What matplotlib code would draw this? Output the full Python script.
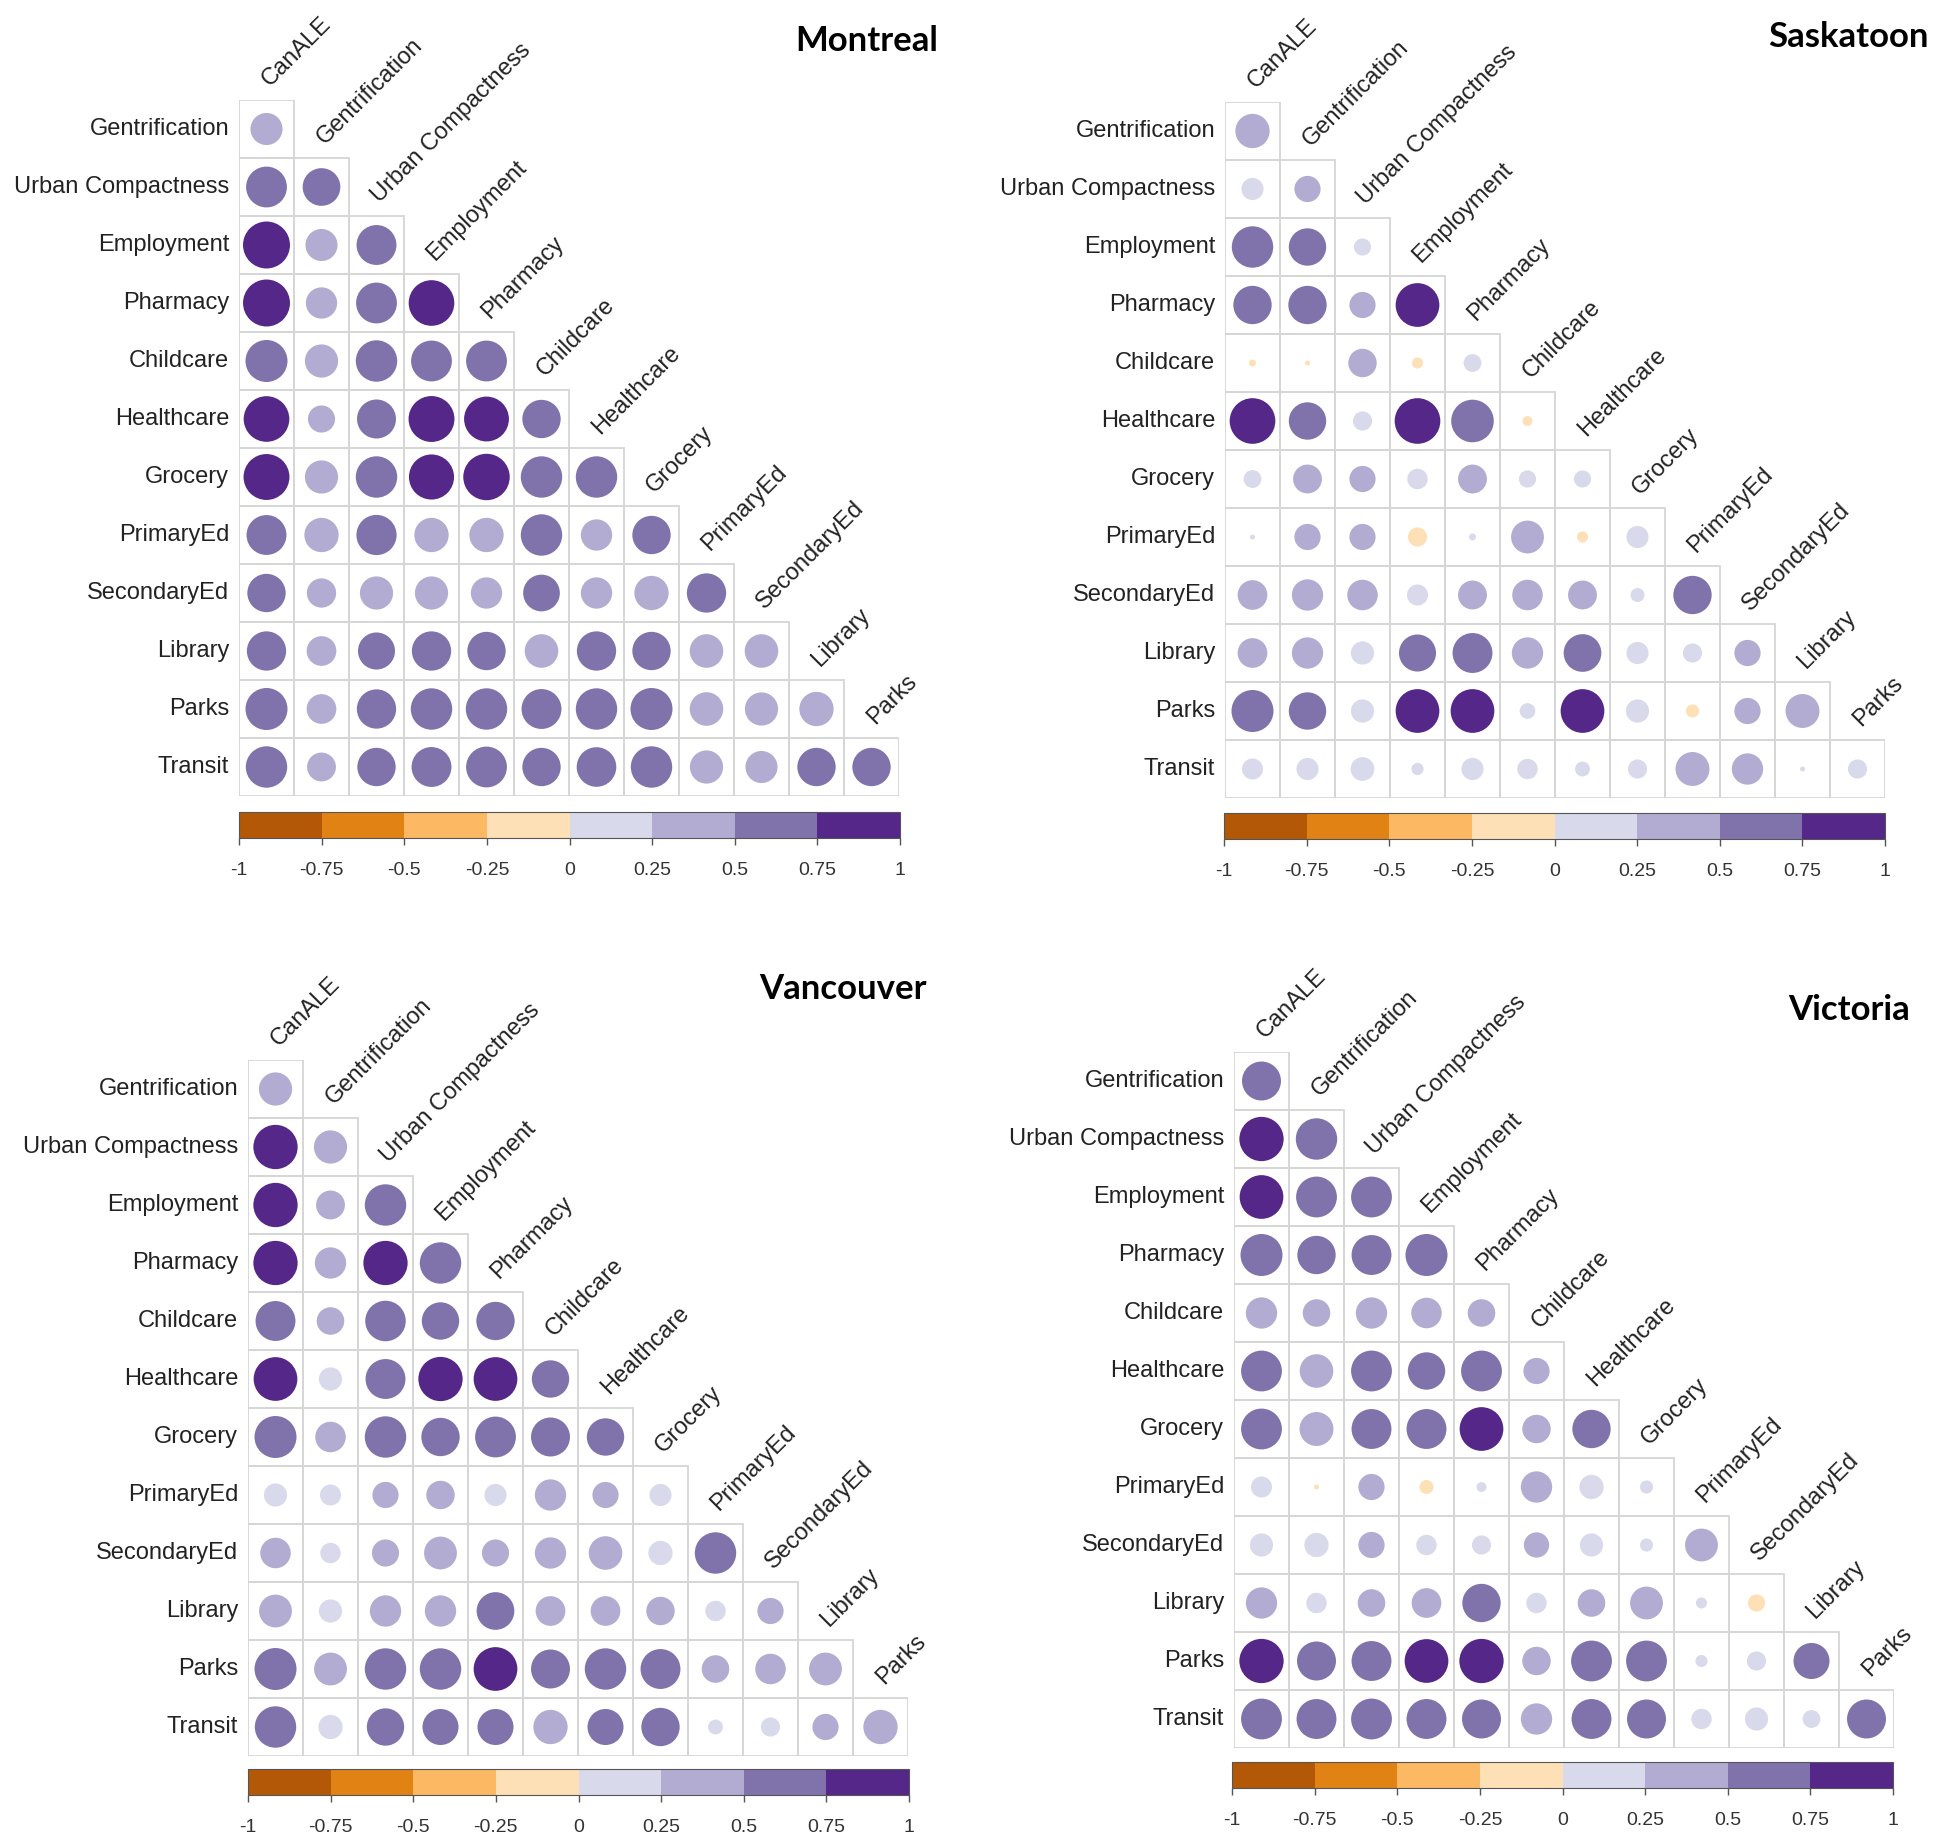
import numpy as np
import matplotlib
matplotlib.use("Agg")
import matplotlib.pyplot as plt
import matplotlib.colors as mcolors
from matplotlib.patches import Rectangle
from matplotlib.cm import ScalarMappable

variables = ["CanALE", "Gentrification", "Urban Compactness", "Employment", "Pharmacy",
             "Childcare", "Healthcare", "Grocery", "PrimaryEd", "SecondaryEd",
             "Library", "Parks", "Transit"]

# lower triangle: row k (Gentrification..Transit) against CanALE..variable k-1
montreal = [
    [0.42],
    [0.68, 0.58],
    [0.90, 0.42, 0.65],
    [0.90, 0.40, 0.68, 0.85],
    [0.72, 0.45, 0.70, 0.68, 0.68],
    [0.85, 0.30, 0.62, 0.86, 0.82, 0.60],
    [0.86, 0.45, 0.70, 0.83, 0.88, 0.70, 0.70],
    [0.65, 0.48, 0.66, 0.48, 0.48, 0.70, 0.40, 0.60],
    [0.60, 0.35, 0.45, 0.45, 0.40, 0.55, 0.40, 0.48, 0.63],
    [0.63, 0.36, 0.56, 0.63, 0.60, 0.46, 0.63, 0.60, 0.46, 0.46],
    [0.72, 0.36, 0.63, 0.70, 0.70, 0.65, 0.70, 0.72, 0.46, 0.45, 0.48],
    [0.70, 0.34, 0.60, 0.65, 0.68, 0.60, 0.64, 0.70, 0.45, 0.42, 0.60, 0.60],
]

saskatoon = [
    [0.48],
    [0.20, 0.28],
    [0.70, 0.57, 0.12],
    [0.60, 0.60, 0.28, 0.78],
    [-0.02, -0.01, 0.33, -0.05, 0.13],
    [0.85, 0.57, 0.15, 0.85, 0.74, -0.04],
    [0.13, 0.34, 0.28, 0.17, 0.34, 0.12, 0.12],
    [0.01, 0.28, 0.28, -0.15, 0.02, 0.44, -0.05, 0.20],
    [0.36, 0.40, 0.38, 0.18, 0.34, 0.38, 0.34, 0.08, 0.60],
    [0.36, 0.40, 0.22, 0.56, 0.65, 0.40, 0.58, 0.20, 0.15, 0.28],
    [0.72, 0.57, 0.22, 0.78, 0.78, 0.10, 0.78, 0.22, -0.07, 0.28, 0.47],
    [0.18, 0.20, 0.23, 0.06, 0.20, 0.17, 0.09, 0.15, 0.47, 0.40, 0.01, 0.15],
]

vancouver = [
    [0.45],
    [0.80, 0.45],
    [0.80, 0.34, 0.70],
    [0.80, 0.40, 0.80, 0.70],
    [0.65, 0.31, 0.67, 0.57, 0.60],
    [0.78, 0.22, 0.65, 0.80, 0.78, 0.57],
    [0.72, 0.38, 0.70, 0.60, 0.68, 0.62, 0.57],
    [0.22, 0.18, 0.28, 0.33, 0.20, 0.40, 0.28, 0.20],
    [0.38, 0.17, 0.30, 0.44, 0.30, 0.40, 0.46, 0.24, 0.70],
    [0.44, 0.22, 0.40, 0.40, 0.58, 0.36, 0.36, 0.33, 0.17, 0.28],
    [0.72, 0.44, 0.70, 0.70, 0.78, 0.62, 0.70, 0.65, 0.31, 0.38, 0.44],
    [0.70, 0.24, 0.57, 0.53, 0.53, 0.48, 0.53, 0.60, 0.09, 0.15, 0.28, 0.48],
]

victoria = [
    [0.62],
    [0.80, 0.70],
    [0.78, 0.68, 0.68],
    [0.72, 0.60, 0.65, 0.72],
    [0.40, 0.31, 0.40, 0.38, 0.31],
    [0.68, 0.46, 0.68, 0.57, 0.68, 0.28],
    [0.68, 0.47, 0.65, 0.65, 0.78, 0.33, 0.60],
    [0.18, -0.01, 0.28, -0.08, 0.04, 0.40, 0.24, 0.07],
    [0.22, 0.24, 0.28, 0.17, 0.15, 0.26, 0.22, 0.07, 0.44],
    [0.40, 0.17, 0.31, 0.36, 0.60, 0.17, 0.31, 0.44, 0.05, -0.12],
    [0.80, 0.62, 0.65, 0.78, 0.80, 0.33, 0.68, 0.68, 0.06, 0.15, 0.53],
    [0.68, 0.65, 0.68, 0.65, 0.62, 0.40, 0.65, 0.62, 0.17, 0.22, 0.13, 0.62],
]

levels = np.linspace(-1, 1, 9)
tick_labels = ["-1", "-0.75", "-0.5", "-0.25", "0", "0.25", "0.5", "0.75", "1"]
puor8 = ["#b35806", "#e08214", "#fdb863", "#fee0b6",
         "#d8daeb", "#b2abd2", "#8073ac", "#542788"]
cmap = mcolors.ListedColormap(puor8)
norm = mcolors.BoundaryNorm(levels, cmap.N)

W, H, DPI = 1944, 1844, 100
CELL_W, CELL_H = 55, 58
GW, GH = 12 * CELL_W, 12 * CELL_H

label_font = ["Liberation Sans", "DejaVu Sans"]
narrow_font = ["Liberation Sans Narrow", "Liberation Sans", "DejaVu Sans"]

fig = plt.figure(figsize=(W / DPI, H / DPI), dpi=DPI)


def draw_panel(vals, title, grid_left, grid_top, cb_left, cb_top, title_x, title_y):
    ax = fig.add_axes([grid_left / W, 1 - (grid_top + GH) / H, GW / W, GH / H])
    ax.set_xlim(-0.5, 11.5)
    ax.set_ylim(12.5, 0.5)
    ax.axis("off")

    xs, ys, rs = [], [], []
    for k, row in enumerate(vals, start=1):
        for j, r in enumerate(row):
            ax.add_patch(Rectangle((j - 0.5, k - 0.5), 1, 1, fill=False,
                                   ec="#d6d6d6", lw=1.3, zorder=1))
            xs.append(j)
            ys.append(k)
            rs.append(r)
    rs = np.array(rs)
    d_px = 0.9 * np.sqrt(np.abs(rs)) * CELL_W
    ax.scatter(xs, ys, s=(d_px * 72 / DPI) ** 2, c=rs, cmap=cmap, norm=norm,
               linewidths=0, zorder=3)

    for k in range(1, 13):
        ax.text(-0.68, k, variables[k], ha="right", va="center",
                fontsize=17, family=label_font, color="#222222")
    for j in range(12):
        ax.text(j + 0.06, j + 0.28, variables[j], ha="left", va="baseline",
                rotation=45, rotation_mode="anchor", fontsize=17,
                family=label_font, color="#222222")

    fig.text(title_x / W, 1 - title_y / H, title, ha="right", va="center",
             fontsize=25, fontweight="bold", family=["Lato", "DejaVu Sans"])

    cax = fig.add_axes([cb_left / W, 1 - (cb_top + 26) / H, (GW + 1) / W, 26 / H])
    cb = fig.colorbar(ScalarMappable(norm=norm, cmap=cmap), cax=cax,
                      orientation="horizontal", ticks=levels)
    cb.set_ticklabels(tick_labels)
    cb.outline.set_edgecolor("#555555")
    cb.outline.set_linewidth(0.8)
    cax.tick_params(length=5, width=1, color="#555555", labelsize=14, pad=12,
                    labelcolor="#333333", labelfontfamily=narrow_font)


draw_panel(montreal, "Montreal", 239, 100, 239, 812, 938, 41)
draw_panel(saskatoon, "Saskatoon", 1225, 102, 1224, 813, 1929, 37)
draw_panel(vancouver, "Vancouver", 248, 1060, 248, 1769, 927, 989)
draw_panel(victoria, "Victoria", 1234, 1052, 1232, 1762, 1910, 1010)

fig.savefig("out.png", dpi=DPI, facecolor="white")
